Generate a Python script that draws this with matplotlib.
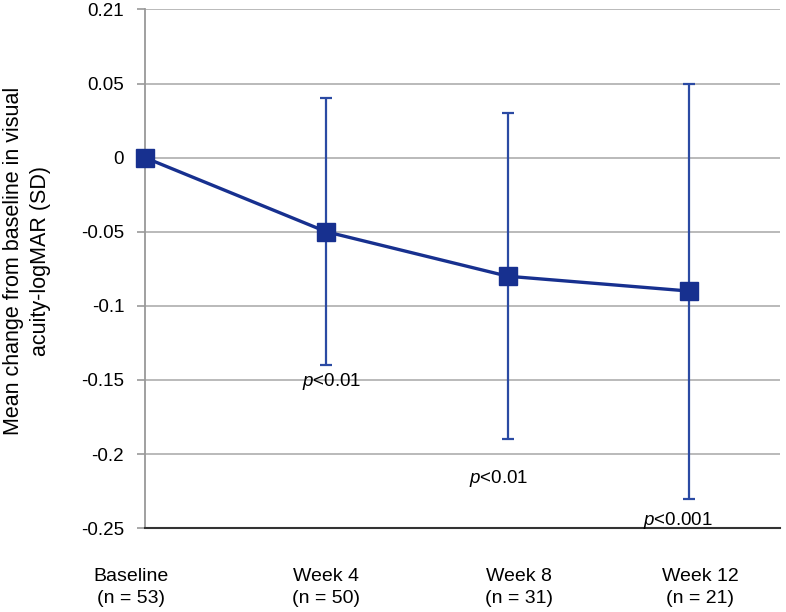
import numpy as np
import matplotlib
matplotlib.use("Agg")
import matplotlib.pyplot as plt
import matplotlib.transforms as mtransforms

plt.rcParams['font.family'] = ['Liberation Sans', 'DejaVu Sans']
plt.rcParams['mathtext.fontset'] = 'custom'
plt.rcParams['mathtext.it'] = 'Liberation Sans:italic'
plt.rcParams['mathtext.rm'] = 'Liberation Sans'

# data
timepoints = ["Baseline\n(n = 53)", "Week 4\n(n = 50)", "Week 8\n(n = 31)", "Week 12\n(n = 21)"]
mean_change = [0.0, -0.05, -0.08, -0.09]
sd = [0.0, 0.09, 0.11, 0.14]
p_labels = ["", "$p$<0.01", "$p$<0.01", "$p$<0.001"]
ytick_vals = [0.1, 0.05, 0.0, -0.05, -0.1, -0.15, -0.2, -0.25]
ytick_text = ["0.21", "0.05", "0", "-0.05", "-0.1", "-0.15", "-0.2", "-0.25"]

navy = "#17308f"
err_col = "#2b4aa3"

fig = plt.figure(figsize=(7.86, 6.12), dpi=100)
ax = fig.add_axes([0.1845, 0.137, 0.8075, 0.8475])

x = np.arange(len(mean_change))
# error bars (baseline has none)
ax.errorbar(x[1:], mean_change[1:], yerr=sd[1:], fmt='none', ecolor=err_col,
            elinewidth=1.6, capsize=4, capthick=1.6, zorder=3)
ax.plot(x, mean_change, color=navy, lw=2.4, marker='s', markersize=13,
        markerfacecolor=navy, markeredgecolor=navy, zorder=4, clip_on=False)

ax.set_xlim(0, 3.5)
ax.set_ylim(-0.25, 0.1)
ax.set_yticks(ytick_vals)
ax.set_yticklabels(ytick_text)
ax.yaxis.grid(True, color='#b4b4b4', lw=1.3)
ax.set_axisbelow(True)
ax.set_xticks([])
ax.tick_params(axis='y', length=6, width=1.2, color='#999999', pad=9, labelsize=13.5)

for s in ['top', 'right']:
    ax.spines[s].set_visible(False)
ax.spines['left'].set_color('#999999')
ax.spines['left'].set_linewidth(1.3)
ax.spines['bottom'].set_color('#333333')
ax.spines['bottom'].set_linewidth(1.5)

# category labels under the axis
label_x = [-0.08, 1.0, 2.06, 3.06]
trans = mtransforms.blended_transform_factory(ax.transData, ax.transAxes)
for lx, lab in zip(label_x, timepoints):
    ax.text(lx, -0.114, lab, transform=trans, ha='center', va='center',
            fontsize=14, linespacing=1.35, clip_on=False)

# p-value annotations
p_pos = [(None, None), (1.03, -0.151), (1.95, -0.2165), (2.94, -0.245)]
for (px, py), txt in zip(p_pos, p_labels):
    if txt:
        ax.text(px, py, txt, ha='center', va='center', fontsize=13.5)

ax.set_ylabel("Mean change from baseline in visual\nacuity-logMAR (SD)", fontsize=15.5,
              linespacing=1.35)
ax.yaxis.set_label_coords(-0.148, 0.515)

fig.savefig("out.png", dpi=100)
